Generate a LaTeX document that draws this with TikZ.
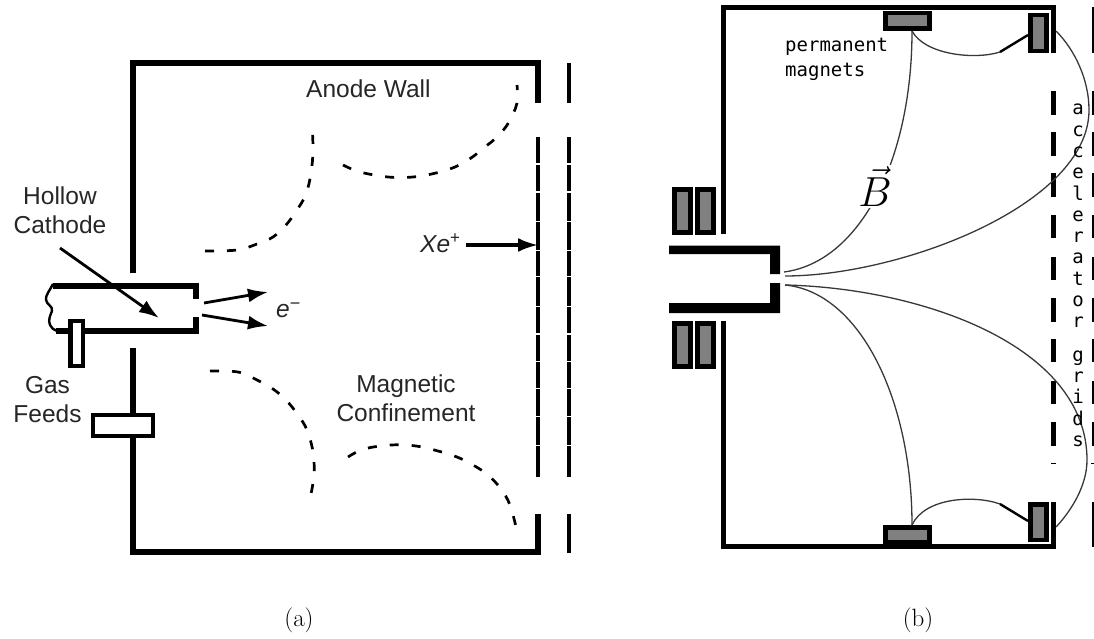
\documentclass[tikz,border=0pt]{standalone}
\usepackage{fix-cm}
\usepackage{fontspec}
\setmainfont{Liberation Sans}
\newfontfamily\monofam{DejaVu Sans Mono}
\newfontfamily\lmfam{Latin Modern Roman}
\usetikzlibrary{arrows.meta}
\definecolor{magfill}{gray}{0.5}
\definecolor{labelink}{gray}{0.15}
\definecolor{fieldink}{gray}{0.22}
\tikzset{
  wall/.style={line width=6pt,line cap=butt},
  gridbar/.style={line width=4.6pt},
  gridbarb/.style={line width=3.4pt},
  confine/.style={line width=2.7pt,dash pattern=on 9pt off 13pt,line cap=butt},
  sans/.style={font=\fontsize{24.5}{29}\selectfont,text=labelink,align=center,inner sep=0pt},
  ptr/.style={line width=2.8pt,-{Latex[length=20pt,width=14pt]}},
  magnet/.style={draw=black,fill=magfill,line width=4.6pt},
  field/.style={draw=fieldink,line width=1.3pt},
  captext/.style={font=\lmfam\fontsize{25}{25}\selectfont,inner sep=0pt},
  mono/.style={font=\monofam\fontsize{19}{25}\selectfont,inner sep=0pt,align=left}
}
\begin{document}
\begin{tikzpicture}[x=1pt,y=-1pt]
\useasboundingbox (0,0) rectangle (1094,639);
% ---------- panel (a) ----------
\draw[wall] (133,273) -- (133,63) -- (538,63) -- (538,103);
\draw[wall] (133,348) -- (133,552) -- (538,552) -- (538,514);
\draw[gridbarb] (569,63) -- (569,103);
\draw[gridbarb] (569,514) -- (569,553);
\foreach \ya/\yb in {137/163.5,165/191.5,193/220.5,222/249.5,251/275.5,277/305.5,307/333,335/360.5,362/387.5,389/415.5,417/444.5,446/477}{
  \draw[gridbar] (538,\ya) -- (538,\yb);
  \draw[gridbarb] (569,\ya) -- (569,\yb);
}
% cathode
\draw[line width=6pt] (53,286) -- (196,286) -- (196,299);
\draw[line width=6pt] (196,317) -- (196,331) -- (56,331);
\draw[line width=2.4pt] (53,284) .. controls (50,290) and (45,296) .. (46,300) .. controls (47,305) and (53,306) .. (52,311) .. controls (50,316) and (48,320) .. (50,325) .. controls (51,328) and (54,330) .. (57,331);
\draw[line width=4.2pt,fill=white] (70.5,366) rectangle (83,321);
\draw[line width=4.2pt,fill=white] (93,415) rectangle (153,436);
% confinement curves
\draw[confine] plot[smooth,tension=0.6] coordinates {(205,251)(237,250)(257,244)(273,237)(286,225)(297,210)(306,194)(311,173)(313,150)(312,125)};
\draw[confine] plot[smooth,tension=0.6] coordinates {(343,165)(360,172)(388,177)(413,177)(436,173)(455,167)(471,158)(485,147)(498,136)(509,122)(517,103)(517,85)};
\draw[confine] plot[smooth,tension=0.6] coordinates {(210,371)(238,372)(257,380)(273,389)(286,400)(298,415)(307,430)(313,452)(314,475)(310,499)};
\draw[confine] plot[smooth,tension=0.6] coordinates {(348,457)(364,449)(391,445)(416,446)(438,451)(457,457)(473,465)(488,475)(501,489)(510,505)(516,527)};
% labels
\node[sans] (hollow) at (60,210) {Hollow\\Cathode};
\node[sans,anchor=base west] (anode) at (306,98) {Anode Wall};
\node[sans] (conf) at (406,398) {Magnetic\\Confinement};
\node[sans] (gas) at (47.5,399.5) {Gas\\Feeds};
\node[sans,anchor=base west] (elec) at (276,317) {\textit{e}\raisebox{8pt}{\fontsize{18}{18}\selectfont −}};
\node[sans,anchor=base west] (xe) at (420,252) {\textit{Xe}\raisebox{9pt}{\fontsize{17}{17}\selectfont +}};
\coordinate (hollowtip) at (159,318);
\coordinate (e1a) at (204,303);
\coordinate (e1b) at (268,292);
\coordinate (e2a) at (202,315);
\coordinate (e2b) at (268,326);
\coordinate (xea) at (466,245);
\coordinate (xeb) at (538,245);
\coordinate (hollowstart) at (60,248);
\draw[ptr] (hollowstart) -- (hollowtip);
\draw[ptr] (e1a) -- (e1b);
\draw[ptr] (e2a) -- (e2b);
\draw[line width=3.2pt,-{Latex[length=20pt,width=14pt]}] (xea) -- (xeb);
\node[captext] (capa) at (299,620) {(a)};
% ---------- panel (b) ----------
\draw[line width=5pt] (723,234) -- (723,8) -- (1053,8) -- (1053,53);
\draw[line width=5pt] (723,321) -- (723,546) -- (1053,546) -- (1053,502);
\draw[line width=2pt] (1093,7) -- (1093,53);
\draw[line width=2pt] (1093,502) -- (1093,547);
\foreach \ya/\yb in {91/115,132/156,173/197,215/238,257/280,298/322,339/362,381/404,422/446}{
  \draw[line width=5pt] (1053,\ya) -- (1053,\yb);
  \draw[line width=2pt] (1093,\ya) -- (1093,\yb);
}
\draw[line width=1pt] (1051,463) -- (1056,463);
\draw[line width=1pt] (1091,463) -- (1094,463);
% magnets
\draw[magnet] (885.5,13) rectangle (929.5,28.5);
\draw[magnet] (1030.5,15) rectangle (1046.5,51);
\draw[magnet] (885.5,527.5) rectangle (929.5,542);
\draw[magnet] (1030.5,504.5) rectangle (1046.5,540);
\foreach \xa in {674.5,697.5}{
  \draw[magnet] (\xa,189.5) rectangle ++(16,43);
  \draw[magnet] (\xa,323.5) rectangle ++(16,43);
}
% cathode b
\fill (669,245.5) -- (780,245.5) -- (780,274) -- (770,274) -- (770,254) -- (669,254) -- cycle;
\fill (669,313) -- (780,313) -- (780,283) -- (770,283) -- (770,303) -- (669,303) -- cycle;
% field lines
\draw[field] (784,272) .. controls (860,262) and (912,160) .. (912,31);
\draw[field] (785,276) .. controls (900,276) and (1089,205) .. (1089,110) .. controls (1089,80) and (1075,50) .. (1056,31);
\draw[field] (912,31) .. controls (925,55) and (975,60) .. (1000,52);
\draw[line width=2.4pt] (1000,52) -- (1028,35);
\draw[field] (785,285) .. controls (860,292) and (912,400) .. (912,525);
\draw[field] (785,285) .. controls (920,288) and (1087,345) .. (1087,460) .. controls (1087,485) and (1072,510) .. (1056,527);
\draw[field] (912,525) .. controls (925,497) and (975,495) .. (1000,504);
\draw[line width=2.4pt] (1000,504) -- (1028,521);
% text b
\node[fill=white,inner sep=1pt,anchor=base,font=\lmfam\fontsize{42}{42}\selectfont] (bvec) at (875,207) {$\vec{B}$};
\node[mono,anchor=north west] (perm) at (785,38) {permanent\\magnets};
\node[font=\monofam\fontsize{19}{21.3}\selectfont,inner sep=0pt,align=center,anchor=north] (grids) at (1078,104) {a\\c\\c\\e\\l\\e\\r\\a\\t\\o\\r\\[12pt]g\\r\\i\\d\\s};
\node[captext] (capb) at (918,620) {(b)};
\end{tikzpicture}
\end{document}
